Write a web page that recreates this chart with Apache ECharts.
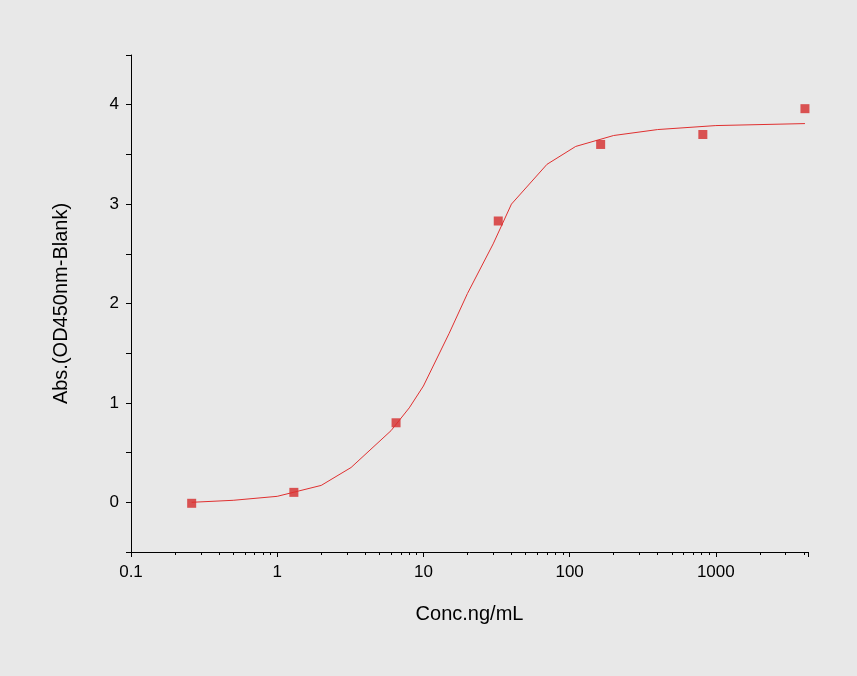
<!DOCTYPE html>
<html><head><meta charset="utf-8">
<script src="https://cdn.jsdelivr.net/npm/echarts@6/dist/echarts.min.js"></script>
<style>html,body{margin:0;padding:0;background:#e8e8e8}#c{width:857px;height:676px}</style>
</head><body><div id="c"></div>
<script>
var concs = [0.26, 1.3, 6.5, 32.5, 163, 815, 4070];
var absVals = [-0.01, 0.10, 0.80, 2.83, 3.60, 3.70, 3.96];
var curveX = [0.26, 0.5, 1, 2, 3.2, 6, 8, 10, 15, 20, 30, 40, 70, 110, 200, 400, 1000, 4070];
var curveY = [0.0, 0.02, 0.06, 0.17, 0.35, 0.72, 0.95, 1.17, 1.7, 2.1, 2.6, 3.0, 3.4, 3.58, 3.69, 3.75, 3.79, 3.81];
var chart = echarts.init(document.getElementById('c'));
var f = 'Arial, Liberation Sans, sans-serif';
var majors = {0.1:'0.1',1:'1',10:'10',100:'100',1000:'1000'};
chart.setOption({
  backgroundColor: '#e8e8e8',
  grid: {left: 131, right: 49, top: 55, bottom: 124},
  xAxis: {
    type: 'log', logBase: 10, min: 0.1, max: 4270,
    name: 'Conc.ng/mL', nameLocation: 'middle', nameGap: 52,
    nameTextStyle: {fontSize: 20, color: '#000', fontFamily: f},
    axisLine: {onZero: false, lineStyle: {color: '#000'}},
    axisTick: {lineStyle: {color: '#000'}, length: 5},
    minorTick: {show: true, splitNumber: 9, length: 3, lineStyle: {color: '#000'}},
    axisLabel: {fontSize: 17, color: '#000', fontFamily: f, margin: 12,
      formatter: function(v){ for (var k in majors) { if (Math.abs(v - k) / k < 1e-6) return majors[k]; } return ''; }},
    splitLine: {show: false}
  },
  yAxis: {
    type: 'value', min: -0.5, max: 4.5, interval: 0.5,
    name: 'Abs.(OD450nm-Blank)', nameLocation: 'middle', nameGap: 60,
    nameTextStyle: {fontSize: 20, color: '#000', fontFamily: f},
    axisLine: {show: true, lineStyle: {color: '#000'}},
    axisTick: {show: true, lineStyle: {color: '#000'}, length: 5},
    axisLabel: {fontSize: 17, color: '#000', fontFamily: f, margin: 12,
      formatter: function(v){ return Math.abs(v - Math.round(v)) < 1e-6 ? String(Math.round(v)) : ''; }},
    splitLine: {show: false}
  },
  series: [
    {type: 'line', data: curveX.map(function(x,i){return [x, curveY[i]];}), smooth: false,
     showSymbol: false, lineStyle: {color: '#e03030', width: 1}, silent: true},
    {type: 'scatter', data: concs.map(function(x,i){return [x, absVals[i]];}),
     symbol: 'rect', symbolSize: 9, itemStyle: {color: '#d42a2a'}}
  ]
});
</script></body></html>
